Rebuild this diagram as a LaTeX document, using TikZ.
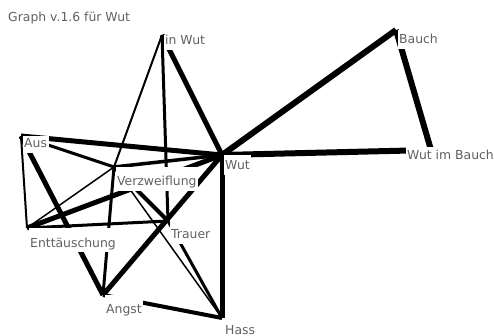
\documentclass[tikz,border=0pt]{standalone}
\usepackage{fontspec}
\setmainfont{DejaVu Sans}
\usetikzlibrary{positioning}

\tikzset{
  lbl/.style={fill=white, text=black!62, anchor=north west, xshift=1.5pt,
    inner xsep=1.5pt, inner ysep=2pt, text height=#1, text depth=3pt,
    font=\fontsize{12.4}{14}\selectfont},
  link/.style={draw=black, line width=#1}
}

\begin{document}
\begin{tikzpicture}[x=1pt, y=-1pt]
        \useasboundingbox (0,0) rectangle (494,336);

        % points of the graph
        \coordinate (inwut)  at (162,35);
        \coordinate (bauch)  at (396,30);
        \coordinate (wut)    at (222,155);
        \coordinate (wib)    at (431,150);
        \coordinate (aus)    at (21,136);
        \coordinate (verz)   at (114,167);
        \coordinate (ent)    at (27,228);
        \coordinate (trauer) at (168,221);
        \coordinate (angst)  at (103,295);
        \coordinate (hass)   at (222,318);

        \path
        (wut) edge[link=6] (bauch)
        (wut) edge[link=6] (wib)
        (bauch) edge[link=6] (wib)
        (aus) edge[link=5] (wut)
        (aus) edge[link=5] (angst)
        (inwut) edge[link=5] (wut)
        (wut) edge[link=5] (hass)
        (ent) edge[link=5] (wut)
        (angst) edge[link=5] (wut)
        (verz) edge[link=4] (trauer)
        (angst) edge[link=4] (hass)
        (verz) edge[link=3.5] (wut)
        (aus) edge[link=3] (verz)
        (inwut) edge[link=3] (trauer)
        (verz) edge[link=3] (angst)
        (ent) edge[link=3] (trauer)
        (trauer) edge[link=3] (hass)
        (aus) edge[link=2] (ent)
        (inwut) edge[link=2] (verz)
        (ent) edge[link=1.5] (verz)
        (verz) edge[link=1.5] (hass);

        % labels over the lines
        \node[lbl=7.75pt] (inwut-l) at (inwut) {in Wut};
        \node[lbl=11.75pt] (bauch-l) at (bauch) {Bauch};
        \node[lbl=12.75pt] (wut-l) at (wut) {Wut};
        \node[lbl=11pt] (wib-l) at (404,146.5) {Wut im Bauch};
        \node[lbl=9.75pt] (aus-l) at (aus) {Aus};
        \node[lbl=16.75pt] (verz-l) at (verz) {Verzweiflung};
        \node[lbl=17pt] (ent-l) at (ent) {Enttäuschung};
        \node[lbl=15.75pt] (trauer-l) at (trauer) {Trauer};
        \node[lbl=16.75pt] (angst-l) at (angst) {Angst};
        \node[lbl=14pt, text depth=0pt] (hass-l) at (hass) {Hass};

        \node[anchor=base west, inner sep=0pt, text=black!62,
          font=\fontsize{12.4}{14}\selectfont] (title) at (8,21.7) {Graph v.1.6 für Wut};

\end{tikzpicture}
\end{document}
